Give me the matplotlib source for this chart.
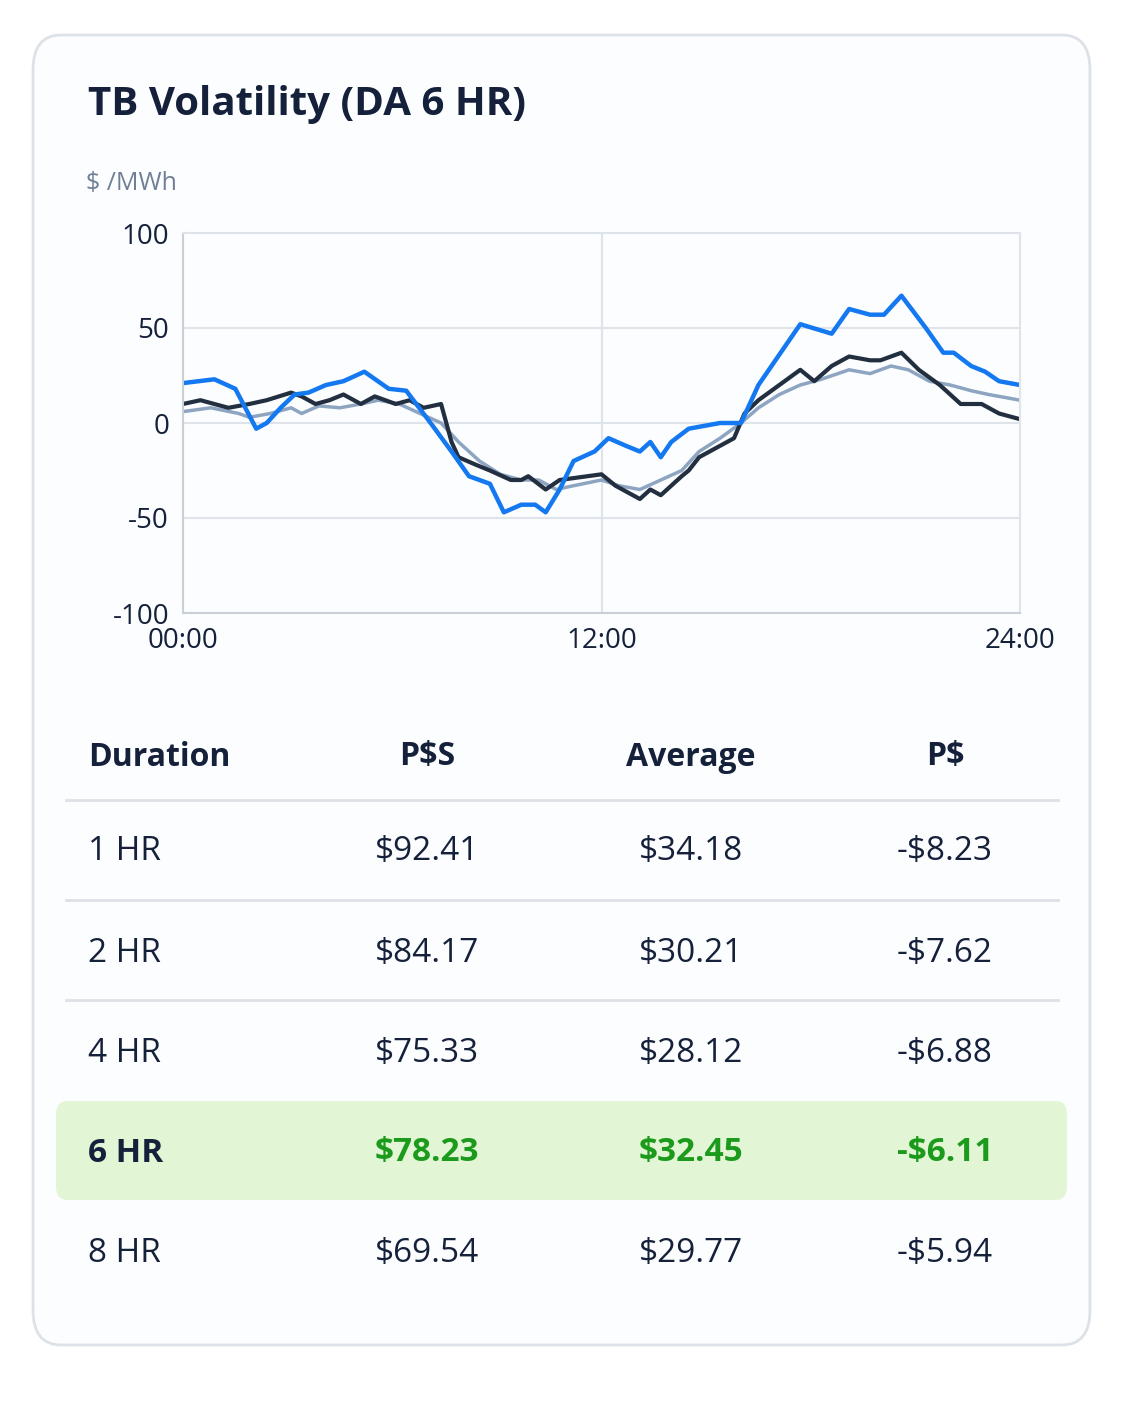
import matplotlib.pyplot as plt
from matplotlib.patches import FancyBboxPatch

plt.rcParams['font.family'] = ['Open Sans', 'DejaVu Sans']

# hours / $/MWh
blueHours = [0, 0.9, 1.5, 2.1, 2.4, 2.8, 3.2, 3.6, 4.1, 4.6, 5.2, 5.9, 6.4, 7.1, 7.7, 8.2, 8.8, 9.2, 9.7,
             10.1, 10.4, 10.8, 11.2, 11.8, 12.2, 12.7, 13.1, 13.4, 13.7, 14.0, 14.5, 15.4, 16.0, 16.5,
             17.7, 18.6, 19.1, 19.7, 20.1, 20.6, 21.3, 21.8, 22.1, 22.6, 23.0, 23.4, 24]
blueVals = [21, 23, 18, -3, 0, 8, 15, 16, 20, 22, 27, 18, 17, 0, -15, -28, -32, -47, -43,
            -43, -47, -35, -20, -15, -8, -12, -15, -10, -18, -10, -3, 0, 0, 20,
            52, 47, 60, 57, 57, 67, 50, 37, 37, 30, 27, 22, 20]
darkHours = [0, 0.5, 1.3, 1.9, 2.4, 3.1, 3.4, 3.8, 4.2, 4.6, 5.1, 5.5, 6.1, 6.5, 6.9, 7.4, 7.7, 7.9, 8.4,
             8.8, 9.4, 9.7, 9.9, 10.4, 10.8, 12.0, 12.4, 13.1, 13.4, 13.7, 14.3, 14.5, 14.8, 15.4, 15.8,
             16.1, 16.5, 17.1, 17.7, 18.1, 18.6, 19.1, 19.7, 20.0, 20.6, 21.1, 21.7, 22.3, 22.9, 23.4, 24]
darkVals = [10, 12, 8, 10, 12, 16, 14, 10, 12, 15, 10, 14, 10, 12, 8, 10, -10, -18, -22,
            -25, -30, -30, -28, -35, -30, -27, -33, -40, -35, -38, -28, -25, -18, -12, -8,
            5, 12, 20, 28, 22, 30, 35, 33, 33, 37, 28, 20, 10, 10, 5, 2]
lightHours = [0, 0.8, 1.6, 1.9, 2.5, 3.1, 3.4, 3.9, 4.5, 5.1, 5.6, 6.2, 6.8, 7.4, 7.9, 8.5, 9.1, 9.7,
              10.2, 10.7, 11.2, 12.0, 12.5, 13.1, 13.7, 14.3, 14.8, 15.4, 16.0, 16.5, 17.1, 17.7,
              18.3, 19.1, 19.7, 20.3, 20.8, 21.4, 22.0, 22.6, 23.1, 24]
lightVals = [6, 8, 5, 3, 5, 8, 5, 9, 8, 10, 12, 10, 5, 0, -10, -20, -27, -30,
             -30, -35, -33, -30, -33, -35, -30, -25, -15, -8, 0, 8, 15, 20,
             23, 28, 26, 30, 28, 22, 20, 17, 15, 12]

headers = ["Duration", "P$S", "Average", "P$"]
durations = ["1 HR", "2 HR", "4 HR", "6 HR", "8 HR"]
psValues = ["$92.41", "$84.17", "$75.33", "$78.23", "$69.54"]
avgValues = ["$34.18", "$30.21", "$28.12", "$32.45", "$29.77"]
pValues = ["-$8.23", "-$7.62", "-$6.88", "-$6.11", "-$5.94"]
highlightRow = 3

W, H = 1122, 1402
fig = plt.figure(figsize=(W / 100, H / 100), dpi=100)
fig.patch.set_facecolor("white")

# card
card = FancyBboxPatch((33 / W, 1 - 1345 / H), 1057 / W, 1310 / H,
                      boxstyle="round,pad=0,rounding_size=0.025", transform=fig.transFigure,
                      facecolor="#fcfdfe", edgecolor="#dde2e8", linewidth=2, zorder=-10)
fig.patches.append(card)

navy = "#15203a"
fig.text(88 / W, 1 - 105 / H, "TB Volatility (DA 6 HR)", fontsize=29, fontweight="bold",
         color=navy, va="center")
fig.text(86 / W, 1 - 183 / H, "$ /MWh", fontsize=18, color="#6f7f95", va="center")

ax = fig.add_axes([183 / W, 1 - 613 / H, 837 / W, 380 / H])
ax.set_facecolor("none")
ax.plot(lightHours, lightVals, color="#8ea5c2", lw=2.5)
ax.plot(darkHours, darkVals, color="#222f40", lw=3)
ax.plot(blueHours, blueVals, color="#1479f0", lw=3.2)
ax.set_xlim(0, 24)
ax.set_ylim(-100, 100)
ax.set_xticks([0, 12, 24], ["00:00", "12:00", "24:00"])
ax.set_yticks([-100, -50, 0, 50, 100], ["-100", "-50", "0", "50", "100"])
ax.grid(color="#dfe4ea", lw=1.5)
ax.tick_params(length=0, labelsize=20, colors=navy, pad=10)
for s in ax.spines.values():
    s.set_color("#dfe4ea")
    s.set_linewidth(1.5)
ax.spines["left"].set_color("#c9d0d8")
ax.spines["bottom"].set_color("#c9d0d8")

# table
colX = [88, 427, 691, 945]
fig.text(colX[0] / W, 1 - 757 / H, headers[0], fontsize=23, fontweight="bold", color=navy, va="center")
for x, h in zip(colX[1:], headers[1:]):
    fig.text(x / W, 1 - 757 / H, h, fontsize=23, fontweight="bold", color=navy, va="center", ha="center")

for yy in [800, 900, 1000]:
    fig.add_artist(plt.Line2D([66 / W, 1058 / W], [1 - yy / H] * 2, color="#dde1e6", lw=2))

hl = FancyBboxPatch((56 / W, 1 - 1200 / H), 1011 / W, 99 / H,
                    boxstyle="round,pad=0,rounding_size=0.01", transform=fig.transFigure,
                    facecolor="#e2f6d6", edgecolor="none", zorder=-5)
fig.patches.append(hl)

rowY = [852, 953, 1053, 1153, 1253]
for i, y in enumerate(rowY):
    hi = i == highlightRow
    wt = "bold" if hi else "normal"
    c2 = "#1c9a1c" if hi else navy
    fig.text(colX[0] / W, 1 - y / H, durations[i], fontsize=24, fontweight=wt, color=navy, va="center")
    for x, v in zip(colX[1:], [psValues[i], avgValues[i], pValues[i]]):
        fig.text(x / W, 1 - y / H, v, fontsize=24, fontweight=wt, color=c2, va="center", ha="center")

fig.savefig("out.png", dpi=100)
